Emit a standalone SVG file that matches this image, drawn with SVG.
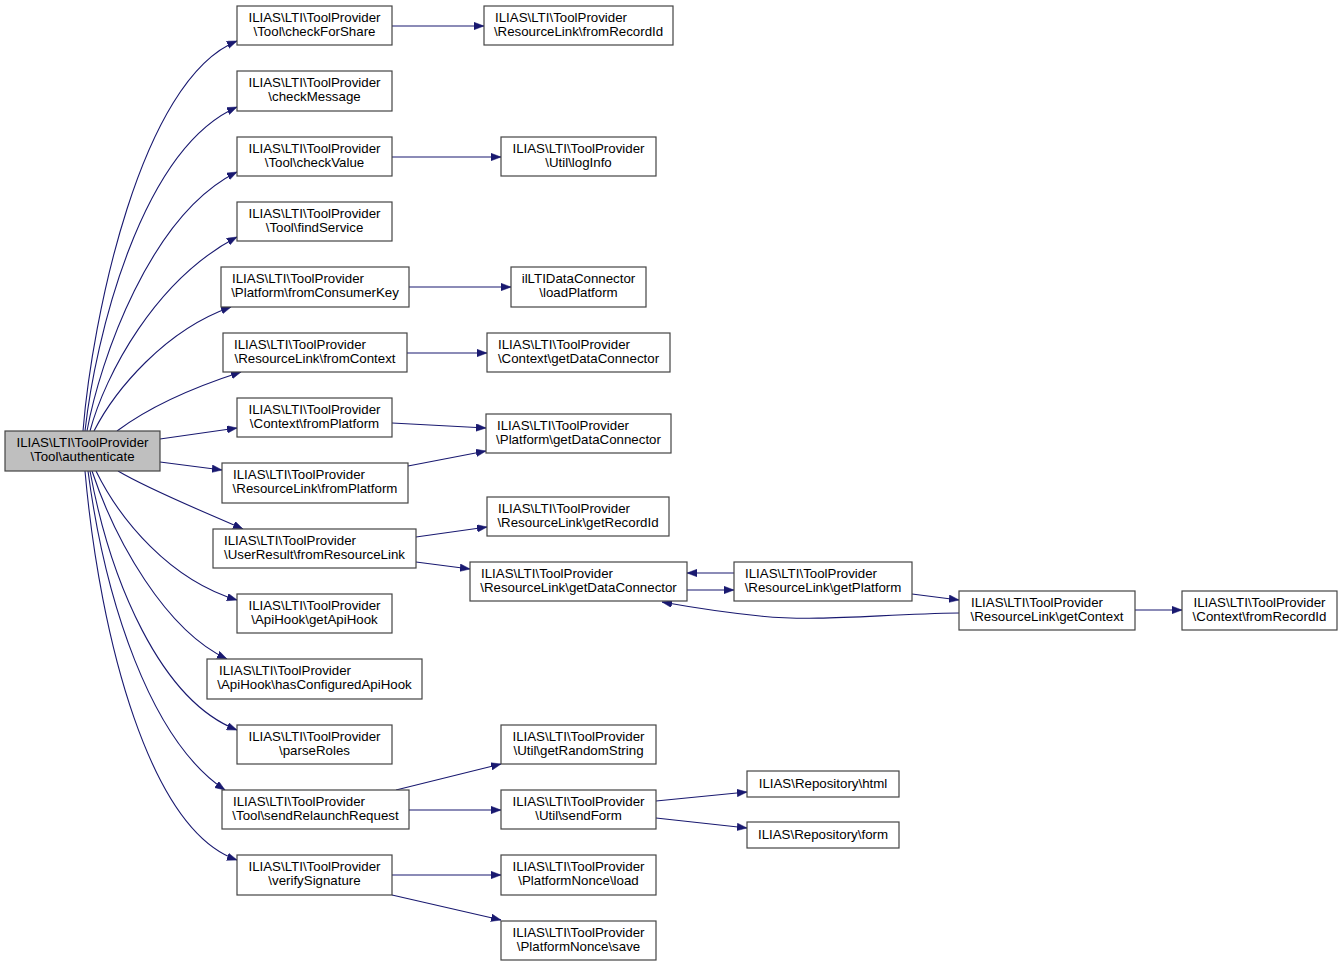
<svg xmlns="http://www.w3.org/2000/svg" width="1343" height="967" viewBox="0 0 1343 967">
<style>
.n rect{fill:#ffffff;stroke:#444444;stroke-width:1.2}
#root rect{fill:#bfbfbf}
text{font-family:"Liberation Sans",Arial,Helvetica,sans-serif;font-size:13.3px;fill:#000}
.c{text-anchor:middle}
.e path{fill:none;stroke:#191970;stroke-width:1.1;marker-end:url(#ah)}
</style>
<defs>
<marker id="ah" markerUnits="userSpaceOnUse" markerWidth="11" markerHeight="8" refX="10" refY="3.75" orient="auto">
<path d="M0,0 L10,3.75 L0,7.5 z" fill="#191970" stroke="#191970" stroke-width="0.5"/>
</marker>
</defs>
<rect width="1343" height="967" fill="#ffffff"/>
<g class="e" id="edges">
<path d="M83,431 C92,320 140,80 237,41"/>
<path d="M85,431 C95,340 140,150 237,107"/>
<path d="M87,431 C100,360 150,215 237,172"/>
<path d="M90,431 C105,375 155,280 237,237"/>
<path d="M94,431 C115,390 165,330 231,307"/>
<path d="M117,431 C145,410 185,390 241,372"/>
<path d="M160,439 L237,428"/>
<path d="M160,462 L222,470"/>
<path d="M118,471 C150,490 200,510 243,529"/>
<path d="M96,471 C120,520 170,580 237,600"/>
<path d="M92,471 C115,540 165,630 227,659"/>
<path d="M90,471 C110,580 160,700 237,730"/>
<path d="M88,471 C105,600 150,740 225,790"/>
<path d="M85,471 C100,640 150,830 237,860"/>
<path d="M392,26 L484,26"/>
<path d="M392,157 L501,157"/>
<path d="M409,287 L511,287"/>
<path d="M407,353 L487,353"/>
<path d="M392,423 L486,428"/>
<path d="M408,466 L486,451"/>
<path d="M416,537 L487,527"/>
<path d="M416,562 L470,569"/>
<path d="M396,790 L501,764"/>
<path d="M409,810 L501,810"/>
<path d="M392,875 L501,875"/>
<path d="M392,895 L501,920"/>
<path d="M687,590 L734,590"/>
<path d="M734,573 L687,573"/>
<path d="M912,594 L959,600"/>
<path d="M959,613 C880,614 820,622 760,616 C720,612 690,607 662,602"/>
<path d="M1135,610 L1182,610"/>
<path d="M656,801 L747,792"/>
<path d="M656,818 L747,828"/>
</g>
<g class="n" id="root"><rect x="5" y="431" width="155" height="40"/><text class="c" x="82.5" y="447">ILIAS\LTI\ToolProvider</text><text class="c" x="82.5" y="461">\Tool\authenticate</text></g>
<g class="n" id="n1"><rect x="237" y="6" width="155" height="39"/><text class="c" x="314.5" y="22">ILIAS\LTI\ToolProvider</text><text class="c" x="314.5" y="36">\Tool\checkForShare</text></g>
<g class="n" id="n2"><rect x="237" y="71" width="155" height="40"/><text class="c" x="314.5" y="87">ILIAS\LTI\ToolProvider</text><text class="c" x="314.5" y="101">\checkMessage</text></g>
<g class="n" id="n3"><rect x="237" y="137" width="155" height="39"/><text class="c" x="314.5" y="153">ILIAS\LTI\ToolProvider</text><text class="c" x="314.5" y="167">\Tool\checkValue</text></g>
<g class="n" id="n4"><rect x="237" y="202" width="155" height="39"/><text class="c" x="314.5" y="218">ILIAS\LTI\ToolProvider</text><text class="c" x="314.5" y="232">\Tool\findService</text></g>
<g class="n" id="n5"><rect x="221" y="267" width="188" height="40"/><text x="232" y="283">ILIAS\LTI\ToolProvider</text><text class="c" x="315" y="297">\Platform\fromConsumerKey</text></g>
<g class="n" id="n6"><rect x="223" y="333" width="184" height="39"/><text x="234" y="349">ILIAS\LTI\ToolProvider</text><text class="c" x="315" y="363">\ResourceLink\fromContext</text></g>
<g class="n" id="n7"><rect x="237" y="398" width="155" height="39"/><text class="c" x="314.5" y="414">ILIAS\LTI\ToolProvider</text><text class="c" x="314.5" y="428">\Context\fromPlatform</text></g>
<g class="n" id="n8"><rect x="222" y="463" width="186" height="40"/><text x="233" y="479">ILIAS\LTI\ToolProvider</text><text class="c" x="315" y="493">\ResourceLink\fromPlatform</text></g>
<g class="n" id="n9"><rect x="213" y="529" width="203" height="39"/><text x="224" y="545">ILIAS\LTI\ToolProvider</text><text class="c" x="314.5" y="559">\UserResult\fromResourceLink</text></g>
<g class="n" id="n10"><rect x="237" y="594" width="155" height="39"/><text class="c" x="314.5" y="610">ILIAS\LTI\ToolProvider</text><text class="c" x="314.5" y="624">\ApiHook\getApiHook</text></g>
<g class="n" id="n11"><rect x="207" y="659" width="215" height="40"/><text x="219" y="675">ILIAS\LTI\ToolProvider</text><text class="c" x="314.5" y="689">\ApiHook\hasConfiguredApiHook</text></g>
<g class="n" id="n12"><rect x="237" y="725" width="155" height="39"/><text class="c" x="314.5" y="741">ILIAS\LTI\ToolProvider</text><text class="c" x="314.5" y="755">\parseRoles</text></g>
<g class="n" id="n13"><rect x="222" y="790" width="187" height="39"/><text x="233" y="806">ILIAS\LTI\ToolProvider</text><text class="c" x="315.5" y="820">\Tool\sendRelaunchRequest</text></g>
<g class="n" id="n14"><rect x="237" y="855" width="155" height="40"/><text class="c" x="314.5" y="871">ILIAS\LTI\ToolProvider</text><text class="c" x="314.5" y="885">\verifySignature</text></g>
<g class="n" id="m1"><rect x="484" y="6" width="189" height="39"/><text x="495" y="22">ILIAS\LTI\ToolProvider</text><text class="c" x="578.5" y="36">\ResourceLink\fromRecordId</text></g>
<g class="n" id="m2"><rect x="501" y="137" width="155" height="39"/><text class="c" x="578.5" y="153">ILIAS\LTI\ToolProvider</text><text class="c" x="578.5" y="167">\Util\logInfo</text></g>
<g class="n" id="m3"><rect x="511" y="267" width="135" height="40"/><text class="c" x="578.5" y="283">ilLTIDataConnector</text><text class="c" x="578.5" y="297">\loadPlatform</text></g>
<g class="n" id="m4"><rect x="487" y="333" width="183" height="39"/><text x="498" y="349">ILIAS\LTI\ToolProvider</text><text class="c" x="578.5" y="363">\Context\getDataConnector</text></g>
<g class="n" id="m5"><rect x="486" y="414" width="185" height="39"/><text x="497" y="430">ILIAS\LTI\ToolProvider</text><text class="c" x="578.5" y="444">\Platform\getDataConnector</text></g>
<g class="n" id="m6"><rect x="487" y="497" width="182" height="39"/><text x="498" y="513">ILIAS\LTI\ToolProvider</text><text class="c" x="578" y="527">\ResourceLink\getRecordId</text></g>
<g class="n" id="m7"><rect x="470" y="562" width="217" height="39"/><text x="481" y="578">ILIAS\LTI\ToolProvider</text><text class="c" x="578.5" y="592">\ResourceLink\getDataConnector</text></g>
<g class="n" id="m8"><rect x="501" y="725" width="155" height="39"/><text class="c" x="578.5" y="741">ILIAS\LTI\ToolProvider</text><text class="c" x="578.5" y="755">\Util\getRandomString</text></g>
<g class="n" id="m9"><rect x="501" y="790" width="155" height="39"/><text class="c" x="578.5" y="806">ILIAS\LTI\ToolProvider</text><text class="c" x="578.5" y="820">\Util\sendForm</text></g>
<g class="n" id="m10"><rect x="501" y="855" width="155" height="40"/><text class="c" x="578.5" y="871">ILIAS\LTI\ToolProvider</text><text class="c" x="578.5" y="885">\PlatformNonce\load</text></g>
<g class="n" id="m11"><rect x="501" y="921" width="155" height="39"/><text class="c" x="578.5" y="937">ILIAS\LTI\ToolProvider</text><text class="c" x="578.5" y="951">\PlatformNonce\save</text></g>
<g class="n" id="p1"><rect x="734" y="562" width="178" height="39"/><text x="745" y="578">ILIAS\LTI\ToolProvider</text><text class="c" x="823" y="592">\ResourceLink\getPlatform</text></g>
<g class="n" id="p2"><rect x="747" y="771" width="152" height="26"/><text class="c" x="823" y="788">ILIAS\Repository\html</text></g>
<g class="n" id="p3"><rect x="747" y="822" width="152" height="26"/><text class="c" x="823" y="839">ILIAS\Repository\form</text></g>
<g class="n" id="q1"><rect x="959" y="591" width="176" height="39"/><text x="971" y="607">ILIAS\LTI\ToolProvider</text><text class="c" x="1047" y="621">\ResourceLink\getContext</text></g>
<g class="n" id="r1"><rect x="1182" y="591" width="155" height="39"/><text class="c" x="1259.5" y="607">ILIAS\LTI\ToolProvider</text><text class="c" x="1259.5" y="621">\Context\fromRecordId</text></g>
</svg>
